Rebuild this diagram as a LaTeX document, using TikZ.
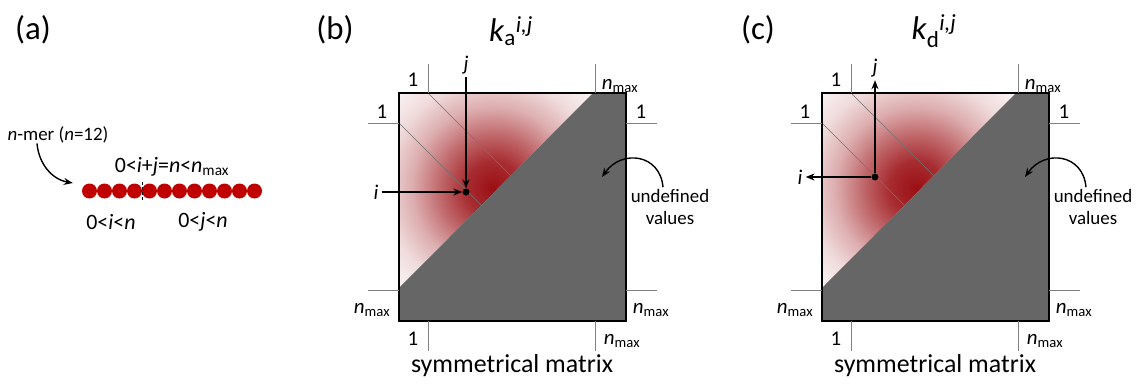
\documentclass[tikz,border=0pt]{standalone}
\usepackage{fontspec}
\setmainfont{Carlito}
\usepackage{tikz}
\usetikzlibrary{arrows.meta}

\definecolor{glowred}{RGB}{155,15,20}
\definecolor{beadred}{RGB}{192,0,0}
\definecolor{undefgray}{RGB}{102,102,102}
\pgfdeclareradialshading{redglow}{\pgfpointorigin}{color(0bp)=(glowred); color(3bp)=(glowred!88!white); color(6bp)=(glowred!62!white); color(9bp)=(glowred!34!white); color(12bp)=(glowred!15!white); color(15bp)=(glowred!5!white); color(18bp)=(white); color(50bp)=(white)}

\newcommand{\nmx}{\textit{n}\textsubscript{max}}

\begin{document}
\begin{tikzpicture}[>={Stealth[length=9bp,width=7bp]},x=1bp,y=1bp,
  bead/.style={circle,fill=beadred,minimum size=15bp,inner sep=0pt},
  dot/.style={circle,fill,minimum size=7bp,inner sep=0pt},
  tag/.style={font=\fontsize{33}{38}\selectfont},
  idx/.style={font=\fontsize{21}{24}\selectfont,inner sep=3bp},
  note/.style={font=\fontsize{19}{22}\selectfont,align=center,inner sep=0pt},
  cond/.style={font=\fontsize{22}{26}\selectfont},
  tick/.style={black!50,line width=0.9bp},
  arr/.style={->,line width=1.4bp}]
\useasboundingbox (0,0) rectangle (1136,383);

% (a) the n-mer
\node[tag] (la) at (33,353) {(a)};
\foreach \k in {0,...,11}
  \node[bead] (b\k) at (89.5+15*\k,192) {};
\draw[dash pattern=on 3bp off 2bp,line width=1bp] (142,201) -- (142,182);
\node[note] (nmer) at (58,248) {\textit{n}-mer (\textit{n}=12)};
\node[cond] (sum) at (172,216) {0<\textit{i}+\textit{j}=\textit{n}<\nmx};
\node[cond] (ci) at (111,161) {0<\textit{i}<\textit{n}};
\node[cond] (cj) at (203,161) {0<\textit{j}<\textit{n}};
\draw[arr] ([xshift=-21bp]nmer.south) to[out=-85,in=170] ([xshift=-9bp,yshift=8bp]b0.west);

% (b) and (c) the matrices
\foreach \p/\dx/\s in {b/0/a,c/423/d} {
\begin{scope}[xshift=\dx bp]
  \fill[white] (399,290) -- (593,290) -- (399,95) -- cycle;
  \begin{scope}
    \clip (399,290) -- (593,290) -- (399,95) -- cycle;
    \shade[shading=redglow] (493,195) circle (225);
  \end{scope}
  \fill[undefgray] (593,290) -- (626,290) -- (626,62) -- (399,62) -- (399,95) -- cycle;
  \draw[black!55,line width=0.6bp] (428,290) -- (511,207) (399,260) -- (481.5,177.5);
  \draw[line width=1.6bp] (399,62) rectangle (626,290);
  \draw[tick] (428,290) -- (428,319) (595,290) -- (595,319)
              (428,62) -- (428,32) (595,62) -- (595,32)
              (399,260) -- (368,260) (399,93) -- (368,93)
              (626,260) -- (657,260) (626,93) -- (657,93);

  \node[tag] (tag\p) at (335,353) {(\p)};
  \node[tag] (k\p) at (511,352) {\textit{k}\textsubscript{\s}\textsuperscript{\textit{i,j}}};
  \node[idx] (t1\p) at (413,303) {1};
  \node[idx] (tn\p) at (620,297) {\nmx};
  \node[idx] (l1\p) at (382,271) {1};
  \node[idx] (ln\p) at (372,73) {\nmx};
  \node[idx] (r1\p) at (641,271) {1};
  \node[idx] (rn\p) at (651,73) {\nmx};
  \node[idx] (d1\p) at (413,44) {1};
  \node[idx] (dn\p) at (622,42) {\nmx};
  \node[font=\fontsize{26}{30}\selectfont] (sym\p) at (512,17) {symmetrical matrix};

  \node[note] (und\p) at (670,176) {undefined\\values};
  \coordinate (gb\p) at (602,206);
  \draw[arr] ([xshift=-7bp,yshift=2bp]und\p.north) to[out=95,in=55,looseness=1.4] (gb\p);
\end{scope}
}

% association: into (i,j)
\node[dot] (dotb) at (466,191) {};
\node[idx] (jb) at (466,318) {\textit{j}};
\node[idx] (ib) at (376,191) {\textit{i}};
\draw[arr] (jb) -- (dotb);
\draw[arr] (ib) -- (dotb);

% dissociation: out of (i,j)
\node[dot] (dotc) at (875,206) {};
\node[idx] (jc) at (875,315) {\textit{j}};
\node[idx] (ic) at (800,206) {\textit{i}};
\draw[arr] (dotc) -- (jc);
\draw[arr] (dotc) -- (ic);
\end{tikzpicture}
\end{document}
